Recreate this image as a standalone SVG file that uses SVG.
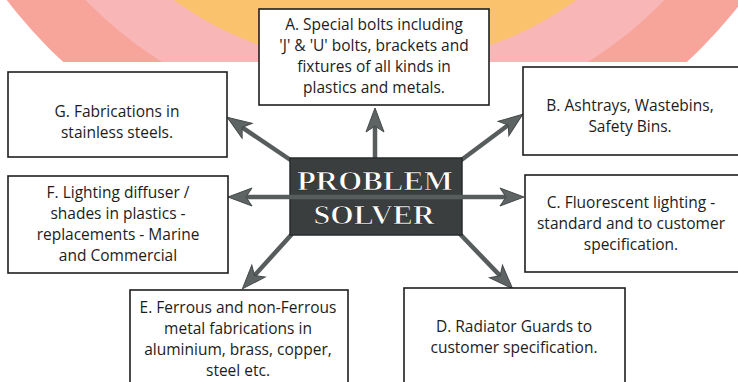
<svg xmlns="http://www.w3.org/2000/svg" width="738" height="382" viewBox="0 0 738 382">
<style>
.box{fill:#fff;stroke:#1e1e1e;stroke-width:1.6}
.t{font-family:"Open Sans","Noto Sans",sans-serif;font-size:15.5px;fill:#1c1c1c;text-anchor:middle}
.c{stroke:#575c5d;stroke-width:4.5;fill:none}
.hub{font-family:"Liberation Serif","Times New Roman",serif;font-size:28px;font-weight:bold;fill:#fff;stroke:#1e1e1e;stroke-width:0.7;text-anchor:middle}
</style>
<defs>
<clipPath id="top"><rect x="0" y="0" width="738" height="62"/></clipPath>
<marker id="ah" markerUnits="userSpaceOnUse" markerWidth="30" markerHeight="24" viewBox="-14 -12 30 24" refX="0" refY="0" orient="auto-start-reverse">
<path d="M13,0 L-11,-9 L-5,0 L-11,9 Z" fill="#5e6364" stroke="#45494a" stroke-width="1"/>
</marker>
</defs>
<rect width="738" height="382" fill="#fff"/>
<g id="background" clip-path="url(#top)">
<circle cx="375" cy="-279" r="462" fill="#f7a49b"/>
<circle cx="375" cy="-279" r="402" fill="#f9b6b6"/>
<circle cx="375" cy="-279" r="344" fill="#fbc26e"/>
</g>
<g id="connectors">
<line class="c" x1="375" y1="160" x2="375" y2="121" marker-end="url(#ah)"/>
<line class="c" x1="292" y1="161" x2="238" y2="124.6" marker-end="url(#ah)"/>
<line class="c" x1="460" y1="161" x2="512.3" y2="122" marker-end="url(#ah)"/>
<line class="c" x1="292" y1="234" x2="251.1" y2="279.2" marker-end="url(#ah)"/>
<line class="c" x1="460" y1="234" x2="503.6" y2="279.4" marker-end="url(#ah)"/>
</g>
<g id="hub">
<rect x="290" y="158" width="172" height="77" fill="#3a3e3f" stroke="#2a2d2e" stroke-width="1.5"/>
<line class="c" x1="241" y1="197" x2="511" y2="197" stroke-width="3.5" marker-start="url(#ah)" marker-end="url(#ah)"/>
<text class="hub" x="375" y="190" textLength="156" lengthAdjust="spacingAndGlyphs">PROBLEM</text>
<text class="hub" x="374" y="224" textLength="121" lengthAdjust="spacingAndGlyphs">SOLVER</text>
</g>
<g id="nodeA">
<rect class="box" x="259" y="9" width="230" height="96"/>
<text class="t" x="374" y="30">A. Special bolts including</text>
<text class="t" x="374" y="51">'J' &amp; 'U' bolts, brackets and</text>
<text class="t" x="374" y="72">fixtures of all kinds in</text>
<text class="t" x="374" y="93">plastics and metals.</text>
</g>
<g id="nodeB">
<rect class="box" x="523" y="67" width="220" height="88"/>
<text class="t" x="630" y="111">B. Ashtrays, Wastebins,</text>
<text class="t" x="630" y="132">Safety Bins.</text>
</g>
<g id="nodeC">
<rect class="box" x="525" y="175" width="220" height="97"/>
<text class="t" x="631" y="208">C. Fluorescent lighting -</text>
<text class="t" x="631" y="229">standard and to customer</text>
<text class="t" x="631" y="250">specification.</text>
</g>
<g id="nodeD">
<rect class="box" x="404" y="288" width="221" height="100"/>
<text class="t" x="514" y="332">D. Radiator Guards to</text>
<text class="t" x="514" y="353">customer specification.</text>
</g>
<g id="nodeE">
<rect class="box" x="130" y="290" width="218" height="98"/>
<text class="t" x="238" y="313">E. Ferrous and non-Ferrous</text>
<text class="t" x="238" y="334">metal fabrications in</text>
<text class="t" x="238" y="355">aluminium, brass, copper,</text>
<text class="t" x="238" y="376">steel etc.</text>
</g>
<g id="nodeF">
<rect class="box" x="8" y="176" width="220" height="97"/>
<text class="t" x="118" y="198">F. Lighting diffuser /</text>
<text class="t" x="118" y="219">shades in plastics -</text>
<text class="t" x="118" y="240">replacements - Marine</text>
<text class="t" x="118" y="261">and Commercial</text>
</g>
<g id="nodeG">
<rect class="box" x="8" y="72" width="219" height="85"/>
<text class="t" x="117" y="117">G. Fabrications in</text>
<text class="t" x="117" y="138">stainless steels.</text>
</g>
</svg>
